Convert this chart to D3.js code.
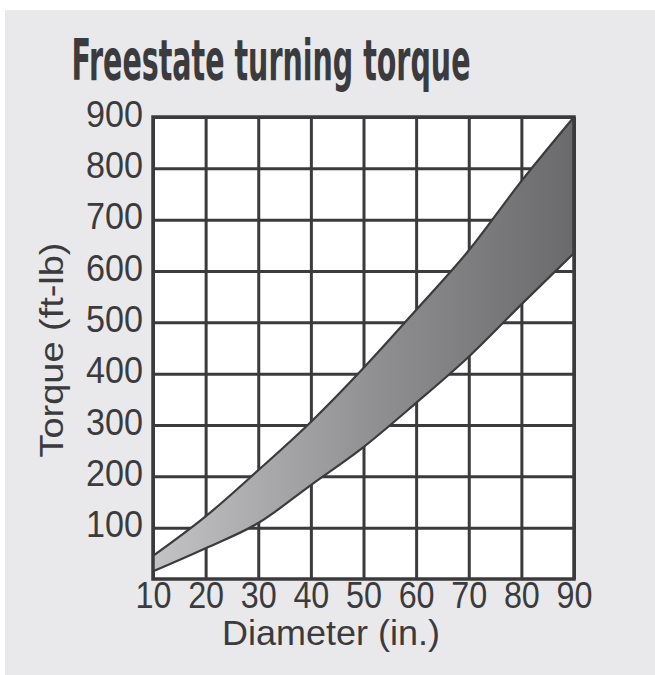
<!DOCTYPE html>
<html>
<head>
<meta charset="utf-8">
<script src="https://cdn.jsdelivr.net/npm/d3@7"></script>
<style>
  html, body { margin: 0; padding: 0; background: #fff; }
  svg { display: block; }
</style>
</head>
<body>
<div class="chart"></div>
<script>
// values
const diameters = [10, 20, 30, 40, 50, 60, 70, 80, 90];
const torqueHigh = [45, 122, 212, 306, 411, 524, 640, 775, 900];
const torqueLow = [15, 60, 109, 183, 257, 343, 433, 535, 635];
const xTicks = [10, 20, 30, 40, 50, 60, 70, 80, 90];
const yTicks = [100, 200, 300, 400, 500, 600, 700, 800, 900];

const W = 655, H = 675;
const margin = { top: 117, right: 81, bottom: 96, left: 153 };
const width = W - margin.left - margin.right;
const height = H - margin.top - margin.bottom;
const ink = '#3b3b3d';
const sans = '"Liberation Sans", Arial, sans-serif';
const condensed = '"DejaVu Sans Condensed", "Liberation Sans", sans-serif';

// squeeze a text horizontally to a wanted width (the original uses a condensed face)
function fit(text, target) {
  text.each(function() {
    const t = d3.select(this);
    const w = this.getComputedTextLength();
    const s = target / w;
    const tx = +t.attr('x') || 0, ty = +t.attr('y') || 0;
    t.attr('x', 0).attr('y', 0)
      .attr('transform', `translate(${tx}, ${ty}) scale(${s}, 1)`);
  });
}

const band = diameters.map((d, i) => ({ d, lo: torqueLow[i], hi: torqueHigh[i] }));

const svg = d3.select('.chart')
  .append('svg')
  .attr('width', W)
  .attr('height', H);

svg.append('rect')
  .attr('x', 5).attr('y', 10)
  .attr('width', W - 5).attr('height', H - 10)
  .attr('fill', '#e9e9eb');

svg.append('text')
  .attr('x', 271).attr('y', 80)
  .attr('text-anchor', 'middle')
  .attr('font-family', condensed)
  .attr('font-weight', 'bold')
  .attr('font-size', 57)
  .attr('fill', ink)
  .text('Freestate turning torque')
  .call(fit, 399);

const x = d3.scaleLinear().domain([10, 90]).range([0, width]);
const y = d3.scaleLinear().domain([0, 900]).range([height, 0]);

const g = svg.append('g')
  .attr('transform', `translate(${margin.left}, ${margin.top})`);

g.append('rect')
  .attr('width', width).attr('height', height)
  .attr('fill', '#fff');

// grid
g.append('g')
  .attr('transform', `translate(0, ${height})`)
  .call(d3.axisBottom(x).tickValues(xTicks).tickSize(-height).tickFormat(''))
  .call(a => a.select('.domain').remove())
  .call(a => a.selectAll('line').attr('stroke', ink).attr('stroke-width', 3));

g.append('g')
  .call(d3.axisLeft(y).tickValues(yTicks).tickSize(-width).tickFormat(''))
  .call(a => a.select('.domain').remove())
  .call(a => a.selectAll('line').attr('stroke', ink).attr('stroke-width', 3));

// band
const grad = svg.append('defs').append('linearGradient')
  .attr('id', 'bandFill')
  .attr('gradientUnits', 'userSpaceOnUse')
  .attr('x1', 0).attr('x2', width).attr('y1', 0).attr('y2', 0);
grad.append('stop').attr('offset', '0%').attr('stop-color', '#c3c3c5');
grad.append('stop').attr('offset', '55%').attr('stop-color', '#8e8e90');
grad.append('stop').attr('offset', '100%').attr('stop-color', '#6a6a6c');

const curve = d3.curveMonotoneX;
g.append('path')
  .datum(band)
  .attr('fill', 'url(#bandFill)')
  .attr('d', d3.area().curve(curve).x(d => x(d.d)).y0(d => y(d.lo)).y1(d => y(d.hi)));

['hi', 'lo'].forEach(k => {
  g.append('path')
    .datum(band)
    .attr('fill', 'none')
    .attr('stroke', ink)
    .attr('stroke-width', 2.2)
    .attr('d', d3.line().curve(curve).x(d => x(d.d)).y(d => y(d[k])));
});

// frame
g.append('rect')
  .attr('width', width).attr('height', height)
  .attr('fill', 'none')
  .attr('stroke', ink)
  .attr('stroke-width', 3.5);

// tick labels
g.append('g')
  .attr('transform', `translate(0, ${height})`)
  .call(d3.axisBottom(x).tickValues(xTicks).tickSize(0).tickPadding(0))
  .call(a => a.select('.domain').remove())
  .call(a => a.selectAll('text')
    .attr('y', 29).attr('dy', 0)
    .attr('font-family', sans)
    .attr('font-size', 37)
    .attr('fill', ink)
    .call(fit, 36));

g.append('g')
  .call(d3.axisLeft(y).tickValues(yTicks).tickSize(0).tickPadding(10))
  .call(a => a.select('.domain').remove())
  .call(a => a.selectAll('text')
    .attr('y', 9).attr('dy', 0)
    .attr('font-family', sans)
    .attr('font-size', 36)
    .attr('fill', ink)
    .call(fit, 57));

svg.append('text')
  .attr('x', 331).attr('y', 645)
  .attr('text-anchor', 'middle')
  .attr('font-family', sans)
  .attr('font-size', 35)
  .attr('fill', ink)
  .text('Diameter (in.)')
  .call(fit, 218);

const yLabel = svg.append('g')
  .attr('transform', 'translate(63, 350) rotate(-90)');
yLabel.append('text')
  .attr('text-anchor', 'middle')
  .attr('font-family', sans)
  .attr('font-size', 34)
  .attr('fill', ink)
  .text('Torque (ft-lb)')
  .call(fit, 215);
</script>
</body>
</html>
